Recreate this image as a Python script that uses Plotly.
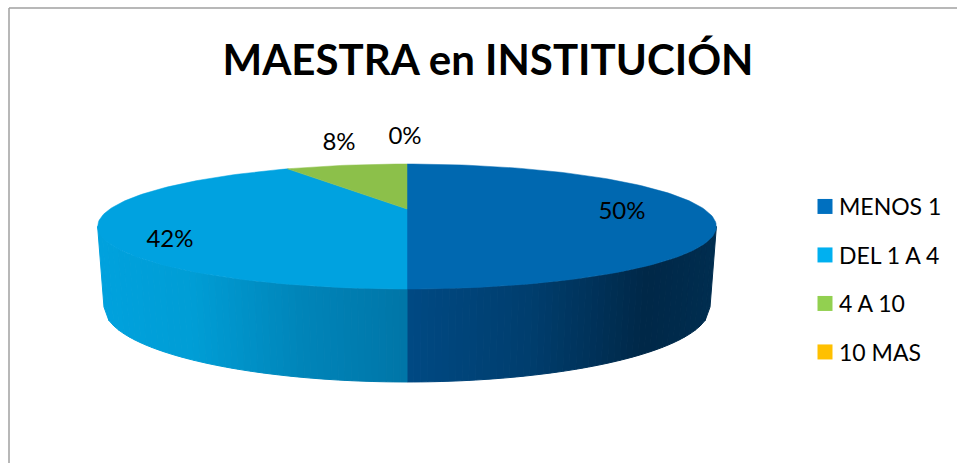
import math
import plotly.graph_objects as go

categories = ["MENOS 1", "DEL 1 A 4", "4 A 10", "10 MAS"]
values = [6, 5, 1, 0]
title_text = "MAESTRA en INSTITUCIÓN"

top_colors = ["#0068B0", "#00A2E0", "#8CC04A", "#FFC000"]
legend_colors = ["#0070C0", "#00B0F0", "#92D050", "#FFC000"]

total = sum(values)
CX, K = 407.0, 0.28
TOP = dict(cy=209.0, a=57.6, b=297.0)
BOT = dict(cy=286.0, a=69.1, b=290.9)


def project(theta, e):
    """theta clockwise from the back of the pie (12 o'clock)."""
    u, v = math.sin(theta), -math.cos(theta)
    w = 1 - K * v
    return CX + e["b"] * u / w, e["cy"] + e["a"] * v / w


def lerp_color(stops, t):
    for (t0, c0), (t1, c1) in zip(stops, stops[1:]):
        if t <= t1:
            f = (t - t0) / (t1 - t0) if t1 > t0 else 0
            return "rgb(%d,%d,%d)" % tuple(c0[i] + (c1[i] - c0[i]) * f for i in range(3))
    return "rgb(%d,%d,%d)" % stops[-1][1]


RIGHT_STOPS = [(0, (0, 74, 132)), (0.4, (0, 62, 110)), (0.78, (0, 40, 72)), (1, (0, 46, 80))]
LEFT_STOPS = [(0, (0, 118, 168)), (0.35, (0, 134, 186)), (0.7, (0, 158, 214)), (1, (0, 162, 222))]

fig = go.Figure()

# side wall of the front half: strips of roughly even screen width
theta_edge = math.acos(-K)  # silhouette of the projected disc
span = math.pi - theta_edge
N = 48


def strip_angle(i, side):
    s = (2 / math.pi) * math.acos(1 - i / N)
    return math.pi - side * span * (1 - s)


for side, stops in ((1, RIGHT_STOPS), (-1, LEFT_STOPS)):
    for i in range(N):
        a0, a1 = strip_angle(i, side), strip_angle(i + 1, side)
        x0, y0 = project(a0, TOP)
        x1, y1 = project(a1, TOP)
        x2, y2 = project(a1, BOT)
        x3, y3 = project(a0, BOT)
        frac = min(1.0, abs((x0 + x1) / 2 - CX) / 310)
        col = lerp_color(stops, frac)
        fig.add_trace(go.Scatter(
            x=[x0, x1, x2, x3, x0], y=[y0, y1, y2, y3, y0], mode="lines",
            fill="toself", fillcolor=col, line=dict(color=col, width=1),
            hoverinfo="skip", showlegend=False))

# top surface slices
cum = 0.0
for name, val, col in zip(categories, values, top_colors):
    if val > 0:
        t0 = 2 * math.pi * cum / total
        t1 = 2 * math.pi * (cum + val) / total
        n = max(4, int(240 * val / total))
        pts = [project(t0 + (t1 - t0) * j / n, TOP) for j in range(n + 1)]
        xs = [CX] + [p[0] for p in pts] + [CX]
        ys = [TOP["cy"]] + [p[1] for p in pts] + [TOP["cy"]]
        fig.add_trace(go.Scatter(
            x=xs, y=ys, mode="lines", fill="toself", fillcolor=col,
            line=dict(color=col, width=0.5), name=name, hoverinfo="name", showlegend=False))
    cum += val

# data labels
lx = [622, 170, 339, 405]
ly = [213, 241, 144, 138]
fig.add_trace(go.Scatter(
    x=lx, y=ly, mode="text",
    text=[f"{round(100 * v / total)}%" for v in values],
    textposition="middle center",
    textfont=dict(family="Lato", size=24, color="#000000"),
    hoverinfo="skip", showlegend=False))

# legend
for name, col in zip(categories, legend_colors):
    fig.add_trace(go.Scatter(
        x=[None], y=[None], mode="markers", name=name, legendgroup=name,
        marker=dict(symbol="square", size=15, color=col)))

fig.update_layout(
    width=957, height=463, margin=dict(l=0, r=0, t=0, b=0),
    paper_bgcolor="white", plot_bgcolor="white",
    xaxis=dict(range=[0, 957], visible=False, fixedrange=True),
    yaxis=dict(range=[463, 0], visible=False, fixedrange=True),
    title=dict(text="<b>" + title_text + "</b>", x=488 / 957, xanchor="center",
               y=1 - 60 / 463, yanchor="middle",
               font=dict(family="Lato", size=42, color="#000000")),
    legend=dict(x=805 / 957, xanchor="left", y=1 - 185 / 463, yanchor="top",
                font=dict(family="Lato", size=23, color="#000000"),
                tracegroupgap=15.6, indentation=-6,
                bgcolor="rgba(0,0,0,0)"),
    shapes=[dict(type="line", xref="x", yref="y", x0=9, y0=463, x1=9, y1=8,
                 line=dict(color="#A0A0A0", width=1.5)),
            dict(type="line", xref="x", yref="y", x0=9, y0=8, x1=957, y1=8,
                 line=dict(color="#A0A0A0", width=1.5))],
)
fig.write_html("out.html", config={"displayModeBar": False},
               post_script="document.body.style.margin='0';document.documentElement.style.overflow='hidden';"
                           "document.querySelectorAll('.legend .legendpoints').forEach(function(g){g.setAttribute('transform','translate(6,0)');});")
